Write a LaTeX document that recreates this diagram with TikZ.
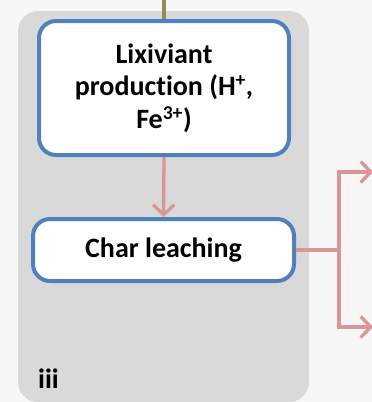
\documentclass[tikz,border=0pt]{standalone}
\usepackage{fontspec}
\setmainfont{Carlito}[Ligatures=NoCommon]
\usetikzlibrary{arrows.meta}
\definecolor{pagegray}{RGB}{247,247,247}
\definecolor{panelgray}{RGB}{217,217,217}
\definecolor{boxblue}{RGB}{79,129,189}
\definecolor{flowpink}{RGB}{218,150,148}
\definecolor{feedolive}{RGB}{148,138,84}
\tikzset{block/.style = {draw=boxblue, fill=white, line width=4pt, rectangle, rounded corners=17pt, align=center, font=\fontsize{28}{32.5}\selectfont\bfseries},
         flow/.style = {draw=flowpink, line width=3.3pt, -{Straight Barb[length=10pt,width=21pt,line width=3.3pt]}},
         feed/.style = {draw=feedolive, line width=4pt}}

\begin{document}
\begin{tikzpicture}[x=1pt,y=-1pt]
        \useasboundingbox[fill=pagegray](0,0)rectangle(372,402);
        \fill[panelgray,rounded corners=20pt](18,11)rectangle(309,402);
        \node[block,minimum width=250pt,minimum height=134pt](lix)at(164,88){Lixiviant\\production (H\textsuperscript{+},\\Fe\textsuperscript{3+})};
        \node[block,minimum width=261pt,minimum height=62pt](leach)at(163.5,250){Char leaching};
        \node[font=\fontsize{28}{32.5}\selectfont\bfseries,anchor=base west,inner sep=0pt](lab)at(38,388){iii};
        \coordinate(feedin)at(164,0);
        \coordinate(split)at(339,250);
        \coordinate(outa)at(373,172);
        \coordinate(outb)at(373,327);
        \draw[feed](feedin)--(lix.north);
        \draw[flow](lix.south)--(leach.north);
        \draw[draw=flowpink,line width=3.3pt](leach.east)--(split);
        \draw[flow](split)|-(outa);
        \draw[flow](split)|-(outb);
    \end{tikzpicture}
\end{document}
